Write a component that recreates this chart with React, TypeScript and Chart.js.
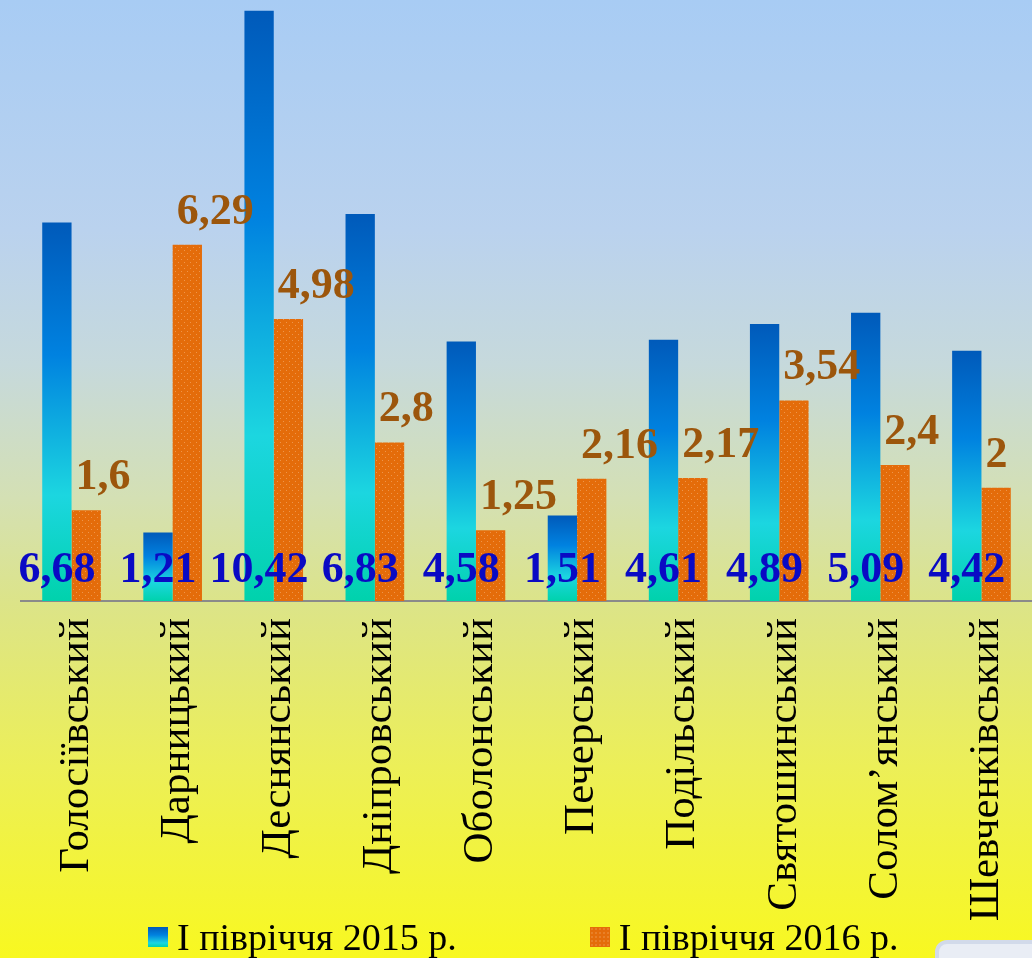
import React, { useEffect, useRef } from "react";
import { Chart, registerables } from "chart.js";

Chart.register(...registerables);

const categories = [
  "Голосіївський",
  "Дарницький",
  "Деснянський",
  "Дніпровський",
  "Оболонський",
  "Печерський",
  "Подільський",
  "Святошинський",
  "Солом’янський",
  "Шевченківський",
];
const series2015 = [6.68, 1.21, 10.42, 6.83, 4.58, 1.51, 4.61, 4.89, 5.09, 4.42];
const series2016 = [1.6, 6.29, 4.98, 2.8, 1.25, 2.16, 2.17, 3.54, 2.4, 2.0];
const seriesNames = ["І півріччя 2015 р.", "І півріччя 2016 р."];

const BLUE_LABEL = "#0A0AC4";
const ORANGE_LABEL = "#9C560C";
const SERIF = "'Liberation Serif', 'Times New Roman', serif";

function fmt(v: number) {
  return String(v).replace(".", ",");
}

function makeOrangePattern(): CanvasPattern | string {
  const c = document.createElement("canvas");
  c.width = 6;
  c.height = 6;
  const x = c.getContext("2d");
  if (!x) return "#E46C0A";
  x.fillStyle = "#E46C0A";
  x.fillRect(0, 0, 6, 6);
  x.fillStyle = "rgba(240,160,90,0.8)";
  x.fillRect(1, 1, 1, 1);
  x.fillRect(4, 4, 1, 1);
  const p = x.createPattern(c, "repeat");
  return p || "#E46C0A";
}

const valueLabels = {
  id: "valueLabels",
  afterDatasetsDraw(chart: any) {
    const ctx = chart.ctx as CanvasRenderingContext2D;
    const yScale = chart.scales.y;
    const base = yScale.getPixelForValue(0);
    ctx.save();
    ctx.font = `bold 44px ${SERIF}`;
    ctx.textBaseline = "alphabetic";
    const m0 = chart.getDatasetMeta(0);
    ctx.fillStyle = BLUE_LABEL;
    ctx.textAlign = "center";
    m0.data.forEach((bar: any, i: number) => {
      ctx.fillText(fmt(series2015[i]), bar.x, base - 19);
    });
    const m1 = chart.getDatasetMeta(1);
    ctx.fillStyle = ORANGE_LABEL;
    ctx.textAlign = "left";
    m1.data.forEach((bar: any, i: number) => {
      const left = bar.x - bar.width / 2;
      ctx.fillText(fmt(series2016[i]), left + 4, bar.y - 21);
    });
    ctx.restore();
  },
};

export default function App() {
  const ref = useRef<HTMLCanvasElement | null>(null);

  useEffect(() => {
    const canvas = ref.current;
    if (!canvas) return;
    const orange = makeOrangePattern();
    const blueGradient = (c: any) => {
      const chart = c.chart;
      const y = chart.scales && chart.scales.y;
      if (!chart.chartArea || !y || typeof c.raw !== "number") return "#0080E0";
      const top = y.getPixelForValue(c.raw);
      const bottom = y.getPixelForValue(0);
      if (!isFinite(top) || !isFinite(bottom) || bottom - top < 1) return "#0080E0";
      const g = chart.ctx.createLinearGradient(0, top, 0, bottom);
      g.addColorStop(0, "#005ABA");
      g.addColorStop(0.35, "#0082E0");
      g.addColorStop(0.72, "#1CD6E0");
      g.addColorStop(1, "#00D2AC");
      return g;
    };

    const chart = new Chart(canvas, {
      type: "bar",
      data: {
        labels: categories,
        datasets: [
          {
            label: seriesNames[0],
            data: series2015,
            backgroundColor: blueGradient,
            borderWidth: 0,
            categoryPercentage: 0.58,
            barPercentage: 1,
          },
          {
            label: seriesNames[1],
            data: series2016,
            backgroundColor: orange as any,
            borderWidth: 0,
            categoryPercentage: 0.58,
            barPercentage: 1,
          },
        ],
      },
      options: {
        responsive: false,
        animation: false,
        devicePixelRatio: 1,
        layout: { padding: { left: 21, right: 0, top: 0, bottom: 0 } },
        plugins: {
          legend: { display: false },
          tooltip: { enabled: false },
        },
        scales: {
          x: {
            grid: { display: false, drawTicks: false },
            border: { display: true, color: "#8A8A8A", width: 2 },
            ticks: {
              autoSkip: false,
              minRotation: 90,
              maxRotation: 90,
              padding: 17,
              labelOffset: 5,
              color: "#000000",
              font: { family: SERIF, size: 43 },
            },
            afterFit: (scale: any) => {
              scale.height = 357;
              scale.paddingLeft = 0;
              scale.paddingRight = 0;
            },
          },
          y: {
            display: false,
            min: 0,
            max: 10.61,
          },
        },
      },
      plugins: [valueLabels],
    });
    return () => chart.destroy();
  }, []);

  const legendItem = (name: string, swatch: React.CSSProperties) => (
    <div style={{ display: "flex", alignItems: "center" }}>
      <div style={{ width: 20, height: 20, marginRight: 9, ...swatch }} />
      <span style={{ fontFamily: SERIF, fontSize: 38, color: "#000", lineHeight: "40px", whiteSpace: "nowrap" }}>
        {name}
      </span>
    </div>
  );

  return (
    <div
      style={{
        position: "absolute",
        left: 0,
        top: 0,
        width: 1032,
        height: 958,
        overflow: "hidden",
        background:
          "linear-gradient(to bottom, #A8CCF4 0%, #BAD2EE 24%, #C6D9DC 38%, #D4E0B4 52%, #DCE488 63%, #ECEF58 80%, #F8F820 100%)",
      }}
    >
      <canvas ref={ref} width={1032} height={958} style={{ display: "block" }} />
      <div
        style={{
          position: "absolute",
          left: 148,
          top: 917,
          display: "flex",
          gap: 133,
        }}
      >
        {legendItem(seriesNames[0], {
          background: "linear-gradient(to bottom, #005ABA, #0082E0 40%, #1CD6E0 80%, #00D2AC)",
        })}
        {legendItem(seriesNames[1], {
          background: "#E46C0A",
          backgroundImage: "radial-gradient(rgba(240,160,90,0.8) 0.6px, transparent 0.8px)",
          backgroundSize: "4px 4px",
        })}
      </div>
      <div
        style={{
          position: "absolute",
          left: 935,
          top: 940,
          width: 120,
          height: 60,
          borderRadius: 12,
          border: "4px solid #D2DAEA",
          background: "#E9EDF5",
          boxSizing: "border-box",
        }}
      />
    </div>
  );
}
